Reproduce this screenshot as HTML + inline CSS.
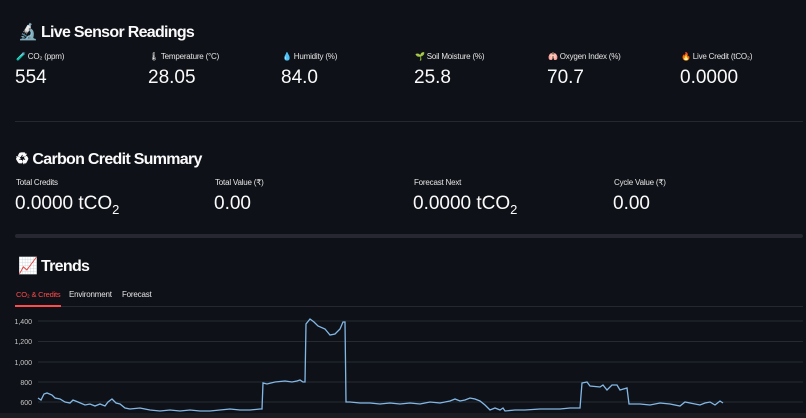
<!DOCTYPE html>
<html><head><meta charset="utf-8"><style>
body{margin:0;width:806px;height:418px;background:#0e1117;color:#fafafa;font-family:"Liberation Sans",sans-serif;overflow:hidden;position:relative}
.a{position:absolute;white-space:nowrap}
.t{font-size:16px;font-weight:bold;letter-spacing:-0.7px}
.l{font-size:8px;color:#e6e6e6;letter-spacing:-0.2px}
.v{font-size:19px}
</style></head><body>
<div class="a t" style="left:18px;top:22px">🔬 Live Sensor Readings</div>
<div class="a l" style="left:16px;top:52px">🧪 CO₂ (ppm)</div><div class="a v" style="left:15px;top:67px">554</div>
<div class="a l" style="left:149px;top:52px">🌡 Temperature (°C)</div><div class="a v" style="left:148px;top:67px">28.05</div>
<div class="a l" style="left:282px;top:52px">💧 Humidity (%)</div><div class="a v" style="left:281px;top:67px">84.0</div>
<div class="a l" style="left:415px;top:52px">🌱 Soil Moisture (%)</div><div class="a v" style="left:414px;top:67px">25.8</div>
<div class="a l" style="left:548px;top:52px">🫁 Oxygen Index (%)</div><div class="a v" style="left:547px;top:67px">70.7</div>
<div class="a l" style="left:681px;top:52px">🔥 Live Credit (tCO₂)</div><div class="a v" style="left:680px;top:67px">0.0000</div>
<div class="a" style="left:15px;top:121px;width:788px;height:1px;background:#262730"></div>
<div class="a t" style="left:15px;top:149px">♻ Carbon Credit Summary</div>
<div class="a l" style="left:16px;top:178px">Total Credits</div><div class="a v" style="left:15px;top:193px">0.0000 tCO<sub style="font-size:13px">2</sub></div>
<div class="a l" style="left:215px;top:178px">Total Value (₹)</div><div class="a v" style="left:214px;top:193px">0.00</div>
<div class="a l" style="left:414px;top:178px">Forecast Next</div><div class="a v" style="left:413px;top:193px">0.0000 tCO<sub style="font-size:13px">2</sub></div>
<div class="a l" style="left:614px;top:178px">Cycle Value (₹)</div><div class="a v" style="left:613px;top:193px">0.00</div>
<div class="a" style="left:15px;top:234px;width:788px;height:4px;background:#262730;border-radius:2px"></div>
<div class="a t" style="left:18px;top:256px">📈 Trends</div>
<div class="a l" style="left:16px;top:290px;color:#ff4b4b;font-size:7.5px">CO₂ &amp; Credits</div>
<div class="a l" style="left:69px;top:290px">Environment</div>
<div class="a l" style="left:122px;top:290px">Forecast</div>
<div class="a" style="left:15px;top:306px;width:788px;height:1px;background:#262730"></div>
<div class="a" style="left:15px;top:305px;width:46px;height:2px;background:#ff4b4b"></div>
<svg class="a" style="left:0;top:0" width="806" height="418">
<g stroke="#262a33" stroke-width="1"><line x1="38" x2="803" y1="321" y2="321"/><line x1="38" x2="803" y1="341.5" y2="341.5"/><line x1="38" x2="803" y1="362" y2="362"/><line x1="38" x2="803" y1="382" y2="382"/><line x1="38" x2="803" y1="402" y2="402"/></g>
<g fill="#c8c8c8" font-size="7" text-anchor="end" font-family="Liberation Sans"><text x="32" y="324">1,400</text><text x="32" y="344">1,200</text><text x="32" y="365">1,000</text><text x="32" y="385">800</text><text x="32" y="405">600</text></g>
<polyline fill="none" stroke="#83b8e6" stroke-width="1.3" points="38,398 41,400 44,394 47,393 52,395 55,398 60,399 65,402 70,403 73,400 78,402 85,405 90,404 95,406 100,404 105,406 108,402 112,399 116,403 120,404 125,408 130,409 140,408 150,410 160,411 170,410 180,411 190,410 200,411 210,411 220,410 230,409 240,410 250,410 260,409 262,409 263,383 267,384 275,382 285,381 292,382 297,381 300,380 303,382 305,382 306,324 310,319 314,322 318,326 325,329 330,335 335,334 340,329 343,322 345,322 346,402 350,402 360,403 370,403 380,404 390,403 400,404 410,403 420,404 430,402 440,403 450,401 455,399 460,401 465,400 470,398 475,399 480,401 485,405 490,410 495,408 500,410 503,408 505,411 515,410 525,410 540,409 560,409 570,408 580,408 582,383 587,382 590,386 600,387 603,385 607,390 612,385 617,385 620,390 627,388 629,404 640,404 650,405 660,403 670,404 680,406 685,402 690,403 700,405 705,403 710,402 715,405 720,401 723,403"/>
<rect x="0" y="413" width="806" height="5" fill="#1a1c22"/>
</svg>
</body></html>
